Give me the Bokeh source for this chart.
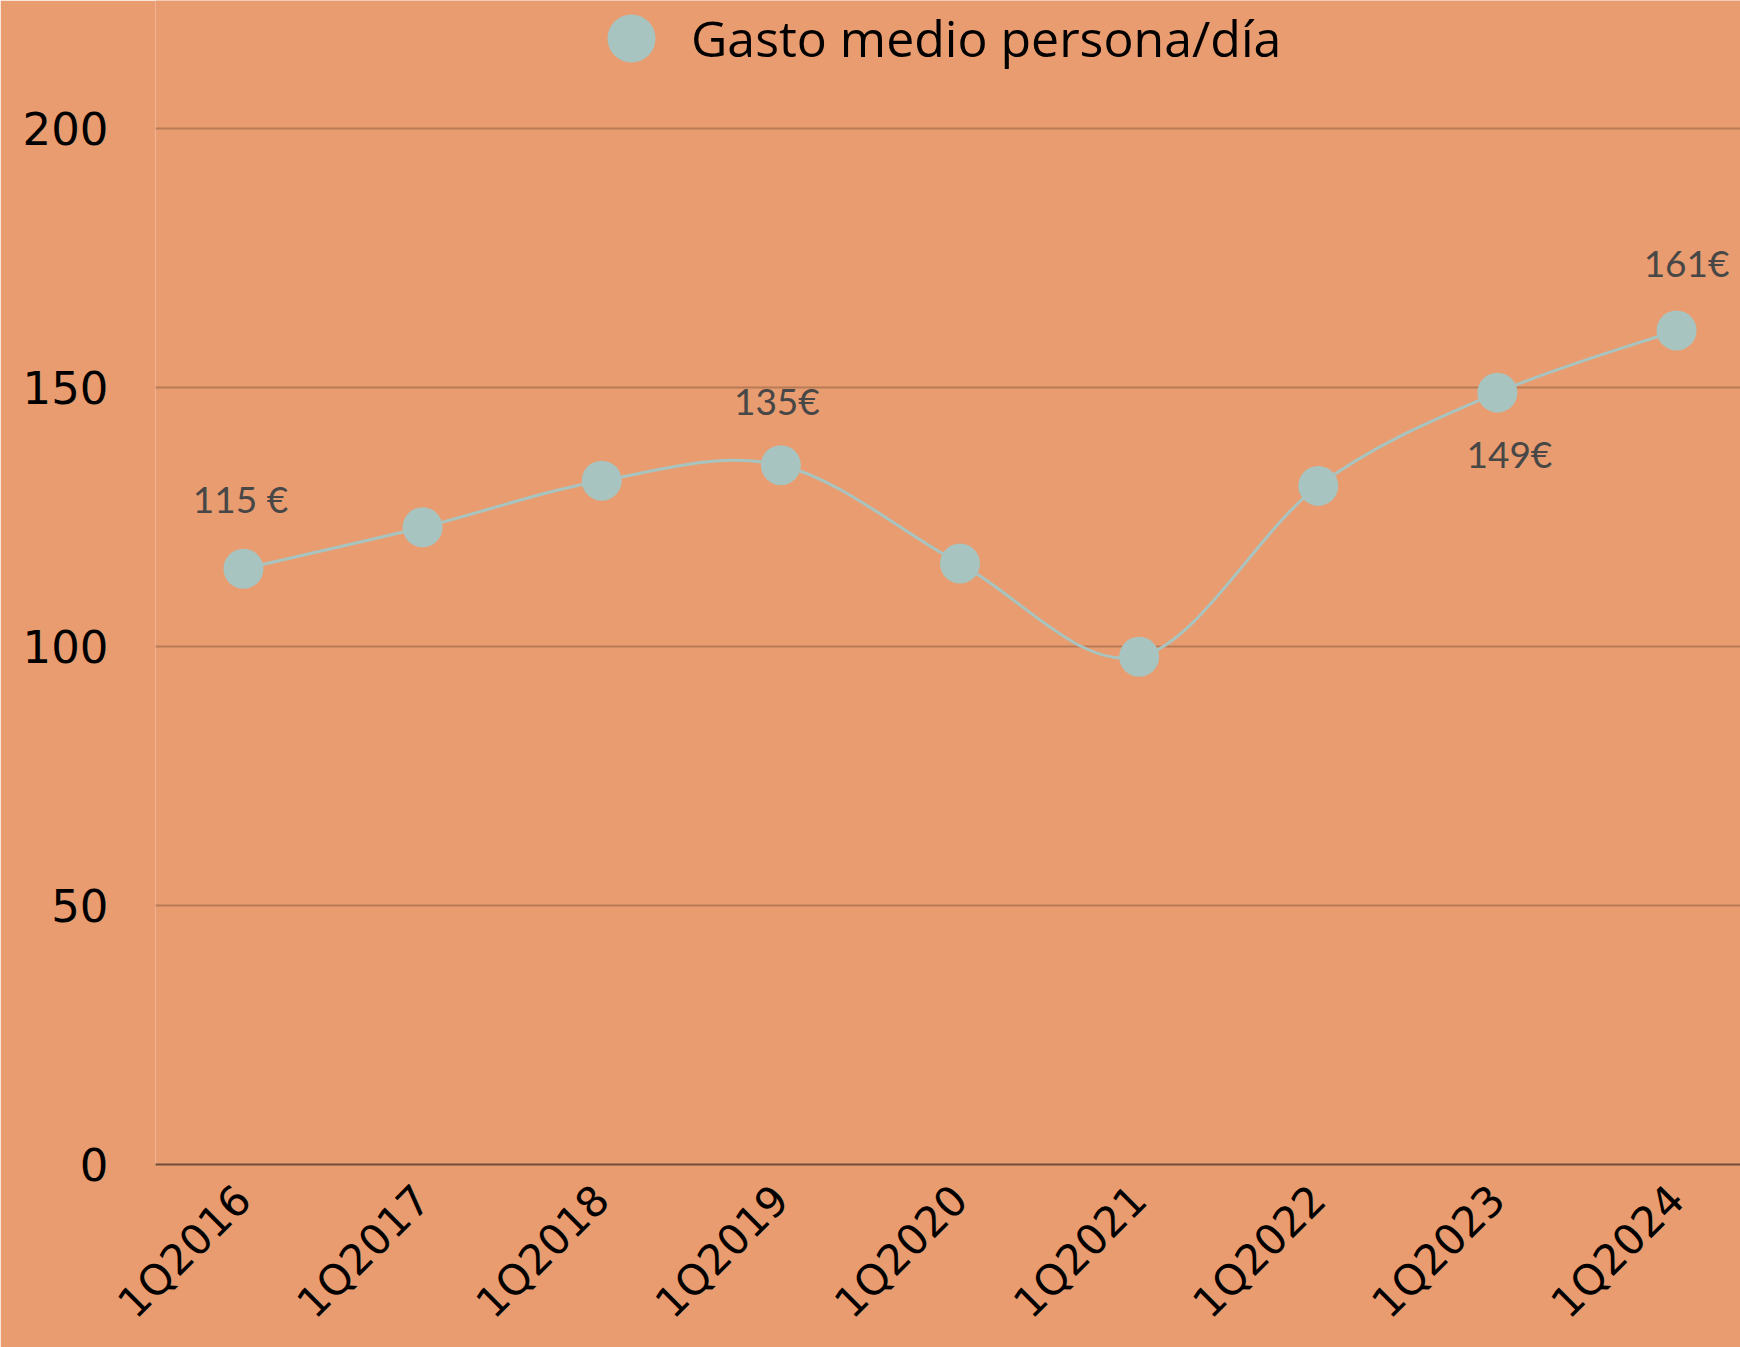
from bokeh.plotting import figure
from bokeh.models import (Range1d, FixedTicker, Legend, LegendItem, ColumnDataSource)
from bokeh.core.properties import value
from bokeh.embed import file_html
from bokeh.resources import INLINE
import math

# ---- data ----
quarters = ["1Q2016", "1Q2017", "1Q2018", "1Q2019", "1Q2020",
            "1Q2021", "1Q2022", "1Q2023", "1Q2024"]
gasto = [115, 123, 132, 135, 116, 98, 131, 149, 161]
label_idx = [0, 3, 7, 8]
label_text = ["115 €", "135€", "149€", "161€"]
y_ticks = [0, 50, 100, 150, 200]
series_name = "Gasto medio persona/día"

BG = "#E89C6F"
MARK = "#A8C4C0"
GRID = "#B77B56"
ZERO = "#6E4E3A"

W, H = 1740, 1347
p = figure(width=W, height=H, output_backend="svg", toolbar_location=None,
           x_range=Range1d(-0.491, 8.357), y_range=Range1d(0, 224.7),
           min_border_left=155, min_border_right=0, min_border_top=0,
           min_border_bottom=175)
p.background_fill_color = BG
p.border_fill_color = BG
p.outline_line_color = None

xs = list(range(len(quarters)))

# smooth curve through the points (Catmull-Rom style bezier segments)
n = len(gasto)
x0, y0, x1, y1, cx0, cy0, cx1, cy1 = [], [], [], [], [], [], [], []
for i in range(n - 1):
    pm = max(i - 1, 0)
    pp = min(i + 2, n - 1)
    x0.append(xs[i]); y0.append(gasto[i])
    x1.append(xs[i + 1]); y1.append(gasto[i + 1])
    cx0.append(xs[i] + (xs[i + 1] - xs[pm]) / 6)
    cy0.append(gasto[i] + (gasto[i + 1] - gasto[pm]) / 6)
    cx1.append(xs[i + 1] - (xs[pp] - xs[i]) / 6)
    cy1.append(gasto[i + 1] - (gasto[pp] - gasto[i]) / 6)
p.bezier(x0=x0, y0=y0, x1=x1, y1=y1, cx0=cx0, cy0=cy0, cx1=cx1, cy1=cy1,
         line_color=MARK, line_width=3)

pts = p.scatter(xs, gasto, size=40, fill_color=MARK, line_color=None)

# data labels
lsrc = ColumnDataSource(dict(
    x=[xs[i] for i in label_idx],
    y=[gasto[i] for i in label_idx],
    t=label_text,
    xo=[-3, -4, 12, 10],
    yo=[-70, -65, 61, -68],
))
p.text(x="x", y="y", text="t", x_offset="xo", y_offset="yo", source=lsrc,
       text_align="center", text_baseline="middle",
       text_font=value("Lato"), text_font_size="37px", text_color="#474747")

# axes
p.xaxis.ticker = FixedTicker(ticks=xs)
p.xaxis.major_label_overrides = {i: q for i, q in enumerate(quarters)}
p.xaxis.major_label_orientation = math.pi / 4
p.xaxis.major_label_text_font = "DejaVu Sans"
p.xaxis.major_label_text_font_size = "42px"
p.xaxis.major_label_text_color = "#000000"
p.xaxis.major_label_standoff = 22
p.xaxis.major_tick_line_color = None
p.xaxis.minor_tick_line_color = None
p.xaxis.axis_line_color = ZERO
p.xaxis.axis_line_width = 2

p.yaxis.ticker = FixedTicker(ticks=y_ticks)
p.yaxis.major_label_text_font = "DejaVu Sans"
p.yaxis.major_label_text_font_size = "45px"
p.yaxis.major_label_text_color = "#000000"
p.yaxis.major_label_standoff = 41
p.yaxis.major_tick_line_color = None
p.yaxis.minor_tick_line_color = None
p.yaxis.axis_line_color = None

p.xgrid.grid_line_color = None
p.ygrid.ticker = FixedTicker(ticks=y_ticks)
p.ygrid.grid_line_color = GRID
p.ygrid.grid_line_width = 2

legend = Legend(items=[LegendItem(label=series_name, renderers=[pts])],
                location=(416, 1066), orientation="horizontal",
                glyph_width=120, glyph_height=120, label_standoff=0,
                padding=0, margin=0, background_fill_alpha=0,
                border_line_color=None,
                label_text_font="Open Sans", label_text_font_size="50px",
                label_text_color="#000000", label_text_baseline="middle")
p.add_layout(legend, "center")

open("out.html", "w").write(file_html(p, INLINE))
